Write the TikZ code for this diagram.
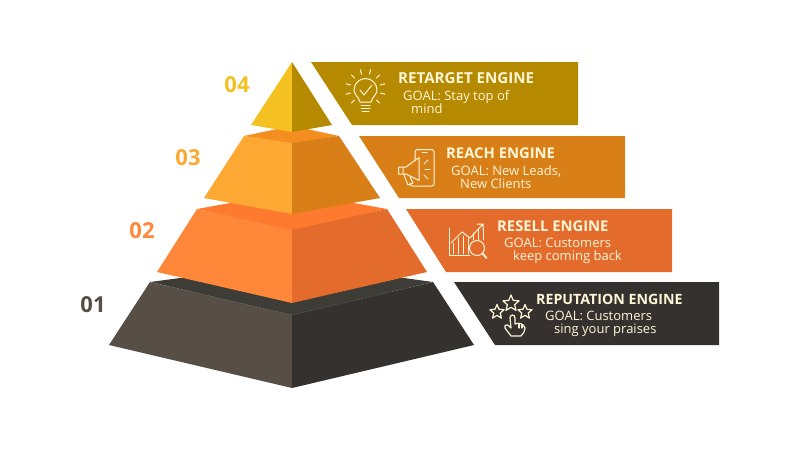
\documentclass[tikz,border=0pt]{standalone}
\usepackage{fontspec}
\setmainfont{Open Sans}
\definecolor{yelL}{HTML}{F5C022}\definecolor{yelR}{HTML}{B68A00}
\definecolor{ambL}{HTML}{FDA833}\definecolor{ambR}{HTML}{D97F17}\definecolor{ambT}{HTML}{F58E20}
\definecolor{oraL}{HTML}{FF873A}\definecolor{oraR}{HTML}{E36B2B}\definecolor{oraT}{HTML}{FD7A2E}
\definecolor{darL}{HTML}{574E45}\definecolor{darR}{HTML}{35312F}\definecolor{darT}{HTML}{3D3C37}
\definecolor{cream}{HTML}{FFF6D8}
\newcommand{\icstar}[3]{\draw[icon] (#1,#2) ++(-90:#3) -- ++(0,0)
  \foreach \a/\r in {-54/0.45,-18/1,18/0.45,54/1,90/0.45,126/1,162/0.45,198/1,234/0.45} {-- ($(#1,#2)+(\a:\r*#3)$)} -- cycle;}
\usetikzlibrary{calc}
\tikzset{
  num/.style={font=\fontsize{22}{24}\bfseries\selectfont,anchor=center,inner sep=0},
  ttl/.style={font=\fontsize{14.800}{16}\bfseries\selectfont,text=cream,anchor=west,inner sep=0},
  goal/.style={font=\fontsize{13}{13}\selectfont,text=cream,anchor=north west,align=left,inner sep=0},
  icon/.style={draw=cream,line width=1pt,line cap=round,line join=round,fill=none},
  seam/.style={draw=white,opacity=.25,line width=.4pt,dashed,dash pattern=on 2pt off 1.5pt}
}
\begin{document}
\begin{tikzpicture}[x=1pt,y=-1pt]
\useasboundingbox (0,0) rectangle (800,450);
% tier 1
\fill[darT] (150,282) -- (180,278) -- (404,278) -- (433,282) -- (292,316) -- cycle;
\fill[darL] (150,282) -- (292,315) -- (292,388) -- (109,345) -- cycle;
\fill[darR] (433,282) -- (292,315) -- (292,388) -- (474,345) -- cycle;
\draw[seam] (150,282) -- (292,315) -- (433,282);
% tier 2
\fill[oraT] (197,209) -- (230,203) -- (354,203) -- (387,209) -- (292,231) -- cycle;
\fill[oraL] (197,209) -- (292,230) -- (292,303) -- (157,272) -- cycle;
\fill[oraR] (387,209) -- (292,230) -- (292,303) -- (427,272) -- cycle;
% tier 3
\fill[ambT] (244,136) -- (277,129) -- (307,129) -- (339,136) -- (292,144) -- cycle;
\fill[ambL] (244,136) -- (292,143) -- (292,214) -- (204,198) -- cycle;
\fill[ambR] (339,136) -- (292,143) -- (292,214) -- (380,198) -- cycle;
% tier 4
\fill[yelL] (292,62) -- (292,132) -- (251,125) -- cycle;
\fill[yelR] (292,62) -- (292,132) -- (332,125) -- cycle;
% banners
\fill[yelR] (311,62) -- (578,62) -- (578,125) -- (352,125) -- cycle;
\fill[ambR] (359,136) -- (625,136) -- (625,198) -- (399,198) -- cycle;
\fill[oraR] (406,209) -- (672,209) -- (672,272) -- (446,272) -- cycle;
\fill[darR] (454,282) -- (719,282) -- (719,345) -- (495,345) -- cycle;
% numbers
\node[num,text=yelL] (n4) at (237,85) {04};
\node[num,text=ambL] (n3) at (188,158) {03};
\node[num,text=oraL] (n2) at (142,231) {02};
\node[num,text=darL] (n1) at (93,305) {01};
% texts
\node[ttl,font=\fontsize{15.100}{16}\bfseries\selectfont] (t4) at (398,78.500) {RETARGET ENGINE};
\node[goal] (g4) at (403,90) {GOAL: Stay top of\\\hspace*{8pt}mind};
\node[ttl] (t3) at (446,153.500) {REACH ENGINE};
\node[goal] (g3) at (451,165) {GOAL: New Leads,\\\hspace*{9pt}New Clients};
\node[ttl] (t2) at (497,226.500) {RESELL ENGINE};
\node[goal] (g2) at (504,238) {GOAL: Customers\\\hspace*{9pt}keep coming back};
\node[ttl,font=\fontsize{14.200}{16}\bfseries\selectfont] (t1) at (536,299.500) {REPUTATION ENGINE};
\node[goal] (g1) at (545,311) {GOAL: Customers\\\hspace*{9pt}sing your praises};
% bulb icon
\draw[icon] (360,102) .. controls (359,97) and (354,95) .. (354,90) arc[start angle=180,end angle=360,radius=11.5] .. controls (377,95) and (372,97) .. (371,102) -- cycle;
\draw[icon] (361,105) -- (370,105) (361,108) -- (370,108) (362,111) -- (369,111);
\draw[icon] (360,90) -- (364,95) -- (372,85);
\foreach \a in {-165,-135,-105,-75,-45,-15,15,45,135,165}
  \draw[icon] ($(365.500,89)+(\a:15.500)$) -- ($(365.500,89)+(\a:20)$);
% phone + megaphone icon
\draw[icon,rounded corners=2.5pt] (415,160) -- (415,149.500) -- (434,149.500) -- (434,186) -- (410,186) -- (410,184);
\draw[icon] (422,152.500) -- (427,152.500);
\draw[icon] (398.500,167) -- (406,167) -- (419,157.500) -- (419,180.500) -- (406,174) -- (398.500,174) -- cycle;
\draw[icon] (403,167) -- (403,174) (404,175) -- (408,185) -- (413,183) -- (410,177);
\foreach \a/\b/\c/\d in {424/164/428/160,425/169/430/169,424/175/428/179}
  \draw[icon] (\a,\b) -- (\c,\d);
% chart icon
\draw[icon] (449,228) -- (449,255.500) -- (470,255.500);
\foreach \a/\b in {453/243,458/238,463/236,468/238}
  \draw[icon,line width=.8pt] (\a,\b) -- (\a,254);
\foreach \a/\b in {473/233,478/229,483/228}
  \draw[icon,line width=.8pt] (\a,\b) -- (\a,240);
\draw[icon] (451,243) -- (462,232) -- (470,238) -- (483,224) (477,224) -- (483,224) -- (483,230);
\draw[draw=cream,fill=oraR,line width=1pt] (477,248) circle[radius=7.500];
\draw[icon,line width=1.800pt] (482.500,253.500) -- (486.500,258);
% stars and hand icon
\begin{scope}[icon/.append style={line width=1.2pt}]
\icstar{497}{312}{7.500}
\icstar{511}{303.500}{8.500}
\icstar{525}{312}{7.500}
\draw[icon] (511,336) -- (505,328) .. controls (504,325) and (507,324) .. (509,326) -- (511,328) -- (510,318) .. controls (510,314) and (515,314) .. (515,318) -- (515,324)
  .. controls (519,322) and (524,324) .. (525,328) -- (524,332) -- (521,336) -- cycle;
\draw[icon] (519,324) -- (519,328) (522,325) -- (522,328);
\end{scope}
\end{tikzpicture}
\end{document}
